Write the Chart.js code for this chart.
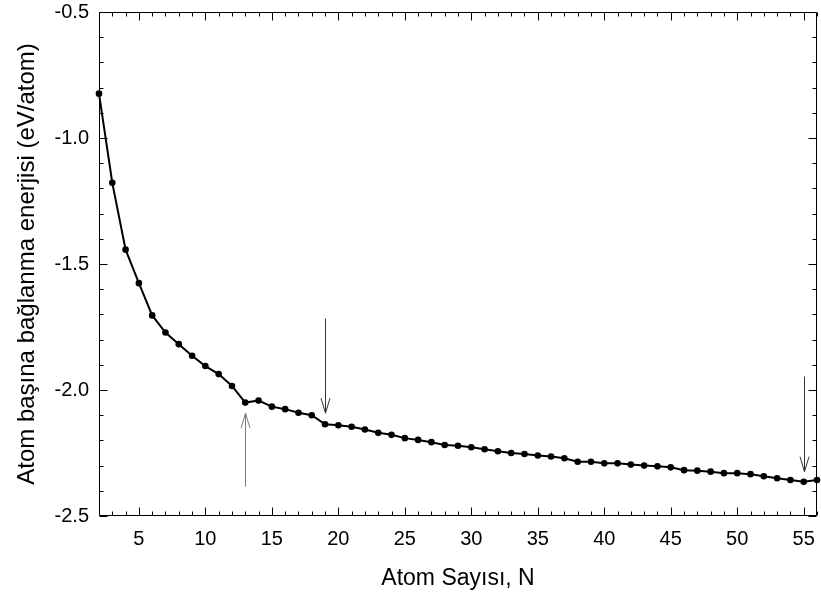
<!DOCTYPE html>
<html>
<head>
<meta charset="utf-8">
<script src="https://cdn.jsdelivr.net/npm/chart.js@4/dist/chart.umd.min.js"></script>
<style>
  html, body { margin: 0; padding: 0; background: #ffffff; }
  #wrap { width: 821px; height: 601px; }
</style>
</head>
<body>
<div id="wrap"><canvas id="c" width="821" height="601"></canvas></div>
<script>
// ---- data ----
const atomCounts = [2,3,4,5,6,7,8,9,10,11,12,13,14,15,16,17,18,19,20,21,22,23,24,25,26,27,28,29,30,31,32,33,34,35,36,37,38,39,40,41,42,43,44,45,46,47,48,49,50,51,52,53,54,55,56];
const bindingEnergy = [-0.824,-1.178,-1.443,-1.576,-1.704,-1.772,-1.818,-1.864,-1.905,-1.937,-1.984,-2.050,-2.042,-2.066,-2.076,-2.090,-2.100,-2.136,-2.140,-2.146,-2.157,-2.170,-2.178,-2.191,-2.198,-2.207,-2.218,-2.221,-2.227,-2.235,-2.243,-2.250,-2.254,-2.260,-2.264,-2.271,-2.285,-2.285,-2.291,-2.291,-2.296,-2.300,-2.303,-2.307,-2.318,-2.320,-2.324,-2.330,-2.330,-2.334,-2.342,-2.350,-2.357,-2.364,-2.357];
const xTickValues = [5,10,15,20,25,30,35,40,45,50,55];
const yTickValues = [-2.5,-2.0,-1.5,-1.0,-0.5];
// arrows: [x, tailY, tipY]
const arrowX = [13, 19, 55];
const arrowTail = [-2.384, -1.717, -1.947];
const arrowTip = [-2.092, -2.092, -2.324];

const points = atomCounts.map((n, i) => ({x: n, y: bindingEnergy[i]}));

const FONT = "'Liberation Sans', Arial, sans-serif";

const framePlugin = {
  id: 'frame',
  afterDatasetsDraw(chart) {
    const ctx = chart.ctx;
    const a = chart.chartArea;
    const xs = chart.scales.x, ys = chart.scales.y;
    ctx.save();
    ctx.strokeStyle = '#000';
    ctx.lineWidth = 1;
    const L = Math.round(a.left) + 0.5, R = Math.round(a.right) - 0.5;
    const T = Math.round(a.top) + 0.5, B = Math.round(a.bottom) - 0.5;
    ctx.beginPath();
    ctx.rect(L, T, R - L, B - T);
    ctx.stroke();
    ctx.beginPath();
    for (let v = 2; v <= 56; v++) {
      const px = Math.round(xs.getPixelForValue(v)) + 0.5;
      const len = (v % 5 === 0) ? 8 : 4;
      ctx.moveTo(px, B); ctx.lineTo(px, B - len);
      ctx.moveTo(px, T); ctx.lineTo(px, T + len);
    }
    for (let k = -25; k <= -5; k++) {
      const v = k / 10;
      const py = Math.round(ys.getPixelForValue(v)) + 0.5;
      const len = (k % 5 === 0) ? 8 : 4;
      ctx.moveTo(L, py); ctx.lineTo(L + len, py);
      ctx.moveTo(R, py); ctx.lineTo(R - len, py);
    }
    ctx.stroke();
    // arrows
    const colors = ['#7a7a7a', '#333333', '#333333'];
    for (let i = 0; i < arrowX.length; i++) {
      const px = Math.round(xs.getPixelForValue(arrowX[i])) + 0.5;
      const y0 = ys.getPixelForValue(arrowTail[i]);
      const y1 = ys.getPixelForValue(arrowTip[i]);
      const dir = y1 > y0 ? 1 : -1;
      ctx.strokeStyle = colors[i];
      ctx.lineWidth = 1;
      ctx.beginPath();
      ctx.moveTo(px, y0); ctx.lineTo(px, y1);
      ctx.moveTo(px - 4.5, y1 - dir * 15); ctx.lineTo(px, y1); ctx.lineTo(px + 4.5, y1 - dir * 15);
      ctx.stroke();
    }
    ctx.restore();
  }
};

new Chart(document.getElementById('c'), {
  type: 'line',
  data: {
    datasets: [{
      data: points,
      borderColor: '#000',
      backgroundColor: '#000',
      borderWidth: 2,
      pointRadius: 3.3,
      pointBackgroundColor: '#000',
      pointBorderColor: '#000',
      pointBorderWidth: 0,
      tension: 0,
      clip: false
    }]
  },
  options: {
    responsive: false,
    animation: false,
    events: [],
    layout: { padding: { top: 12, right: 2, bottom: 0, left: 0 } },
    plugins: { legend: { display: false }, tooltip: { enabled: false } },
    scales: {
      x: {
        type: 'linear',
        min: 2, max: 56,
        afterBuildTicks: s => { s.ticks = xTickValues.map(v => ({value: v})); },
        afterFit: s => { s.height = 85; s.paddingLeft = 0; s.paddingRight = 0; },
        grid: { display: false, drawTicks: false },
        border: { display: false },
        ticks: {
          autoSkip: false, maxRotation: 0,
          padding: 11,
          color: '#000',
          font: { family: FONT, size: 20 },
          callback: v => String(v)
        },
        title: {
          display: true,
          text: 'Atom Sayısı, N',
          color: '#000',
          font: { family: FONT, size: 23 },
          padding: { top: 0, bottom: 9 }
        }
      },
      y: {
        type: 'linear',
        min: -2.5, max: -0.5,
        afterBuildTicks: s => { s.ticks = yTickValues.map(v => ({value: v})); },
        afterFit: s => { s.width = 99; s.paddingTop = 0; s.paddingBottom = 0; },
        grid: { display: false, drawTicks: false },
        border: { display: false },
        ticks: {
          padding: 10,
          color: '#000',
          font: { family: FONT, size: 20 },
          callback: v => Number(v).toFixed(1)
        },
        title: {
          display: true,
          text: 'Atom başına bağlanma enerjisi (eV/atom)',
          color: '#000',
          font: { family: FONT, size: 24 },
          padding: { top: 13, bottom: 0 }
        }
      }
    }
  },
  plugins: [framePlugin]
});
</script>
</body>
</html>
